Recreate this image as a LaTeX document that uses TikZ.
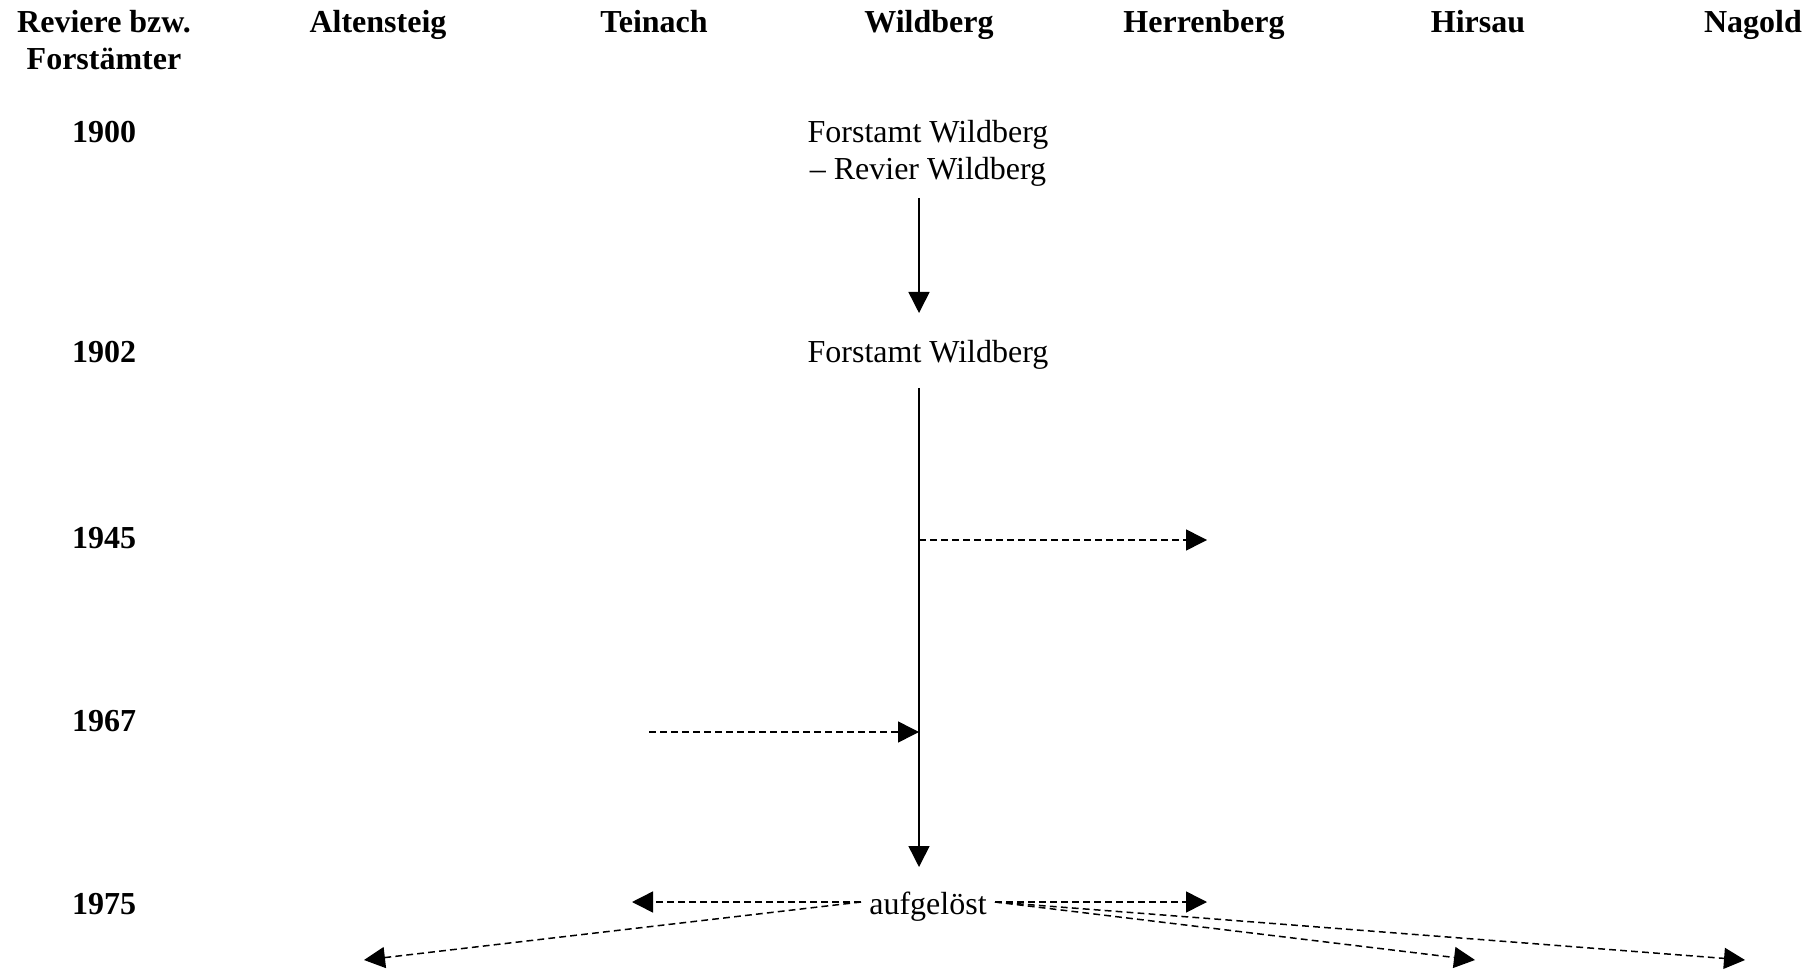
\documentclass[tikz,border=0pt]{standalone}
\usepackage{fontspec}
\setmainfont{Liberation Serif}
\usetikzlibrary{arrows.meta}
\begin{document}
\begin{tikzpicture}[x=0.5pt,y=-0.5pt,
  every node/.style={inner sep=0pt},
  hdr/.style={font=\fontsize{16}{18.5}\selectfont\bfseries, anchor=base, align=center},
  txt/.style={font=\fontsize{16}{18.5}\selectfont, anchor=base, align=center},
  conn/.style={line width=0.75pt, -{Triangle[length=10.5pt,width=10.5pt]}},
  dconn/.style={conn, dash pattern=on 3.4pt off 2.1pt}]
\useasboundingbox (0,0) rectangle (1818,972);
% headers (base = baseline of last line)
\node[hdr] (hRev) at (104,70) {Reviere bzw.\\Forst\"amter};
\node[hdr] (hAlt) at (378,33) {Altensteig};
\node[hdr] (hTei) at (654,33) {Teinach};
\node[hdr] (hWil) at (929,33) {Wildberg};
\node[hdr] (hHer) at (1204,33) {Herrenberg};
\node[hdr] (hHir) at (1478,33) {Hirsau};
\node[hdr] (hNag) at (1753,33) {Nagold};
% years
\node[hdr] (y1900) at (104,143) {1900};
\node[hdr] (y1902) at (104,363) {1902};
\node[hdr] (y1945) at (104,548) {1945};
\node[hdr] (y1967) at (104,731) {1967};
\node[hdr] (y1975) at (104,914) {1975};
% texts
\node[txt] (f1900) at (928,180) {Forstamt Wildberg\\\textendash\ Revier Wildberg};
\node[txt] (f1902) at (928,363) {Forstamt Wildberg};
\node[txt] (auf) at (928,914) {aufgel\"ost};
% coordinates
\coordinate (a1s) at (919,198);
\coordinate (a1e) at (919,313);
\coordinate (a2s) at (919,388);
\coordinate (a2e) at (919,867);
\coordinate (b45) at (919,540);
\coordinate (e45) at (1207,540);
\coordinate (s67) at (649,732);
\coordinate (e67) at (919,732);
\coordinate (aL) at (861,902);
\coordinate (aR) at (995,902);
\coordinate (tTei) at (632,902);
\coordinate (tAlt) at (364,960);
\coordinate (tHer) at (1207,902);
\coordinate (tHir) at (1475,960);
\coordinate (tNag) at (1745,960);
% connectors
\draw[conn] (a1s) -- (a1e);
\draw[conn] (a2s) -- (a2e);
\draw[dconn] (b45) -- (e45);
\draw[dconn] (s67) -- (e67);
\draw[dconn] (aL) -- (tTei);
\draw[dconn] (aL) -- (tAlt);
\draw[dconn] (aR) -- (tHer);
\draw[dconn] (aR) -- (tHir);
\draw[dconn] (aR) -- (tNag);
\end{tikzpicture}
\end{document}
